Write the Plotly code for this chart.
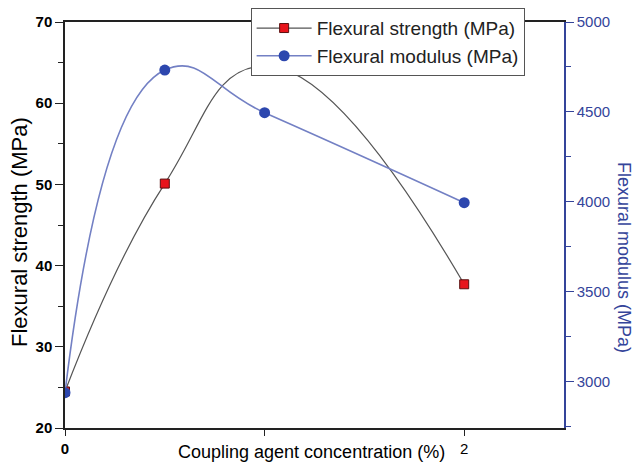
import plotly.graph_objects as go

# Coupling agent concentration (%)
concentration = [0, 0.5, 1, 2]
# Flexural strength (MPa)
strength = [24.5, 50.1, 64.6, 37.7]
# Flexural modulus (MPa)
modulus = [2940, 4733, 4496, 3996]

x_tickvals = [0, 1, 2]
x_ticktext = ["<b>0</b>", "", "2"]
left_tickvals = [20, 30, 40, 50, 60, 70]
right_tickvals = [3000, 3500, 4000, 4500, 5000]

NAVY = "#34449a"
FONT = "Liberation Sans, Arial, sans-serif"

fig = go.Figure()

fig.add_trace(go.Scatter(
    x=concentration, y=strength, name="Flexural strength (MPa)",
    mode="lines+markers",
    line=dict(color="#555555", width=1.2, shape="spline", smoothing=1.3),
    marker=dict(symbol="square", size=9, color="#e8141b",
                line=dict(color="#5a1010", width=1)),
    yaxis="y",
))

fig.add_trace(go.Scatter(
    x=concentration, y=modulus, name="Flexural modulus (MPa)",
    mode="lines+markers",
    line=dict(color="#7380c4", width=1.6, shape="spline", smoothing=1.3),
    marker=dict(symbol="circle", size=11, color="#2d47ae"),
    yaxis="y2",
))

fig.update_layout(
    width=636, height=463,
    margin=dict(l=65, r=72, t=22, b=35, autoexpand=False),
    paper_bgcolor="white", plot_bgcolor="white",
    font=dict(family=FONT, color="black"),
    showlegend=True,
    legend=dict(
        x=0.372, y=1.034, xanchor="left", yanchor="top",
        bgcolor="white", bordercolor="#555555", borderwidth=1,
        font=dict(size=19, family=FONT, color="#222222"),
        tracegroupgap=0, itemwidth=55,
    ),
    xaxis=dict(
        range=[0, 2.5], tickvals=x_tickvals, ticktext=x_ticktext,
        showgrid=False, zeroline=False,
        showline=True, linecolor="#222222", linewidth=1.5, mirror=True,
        ticks="outside", ticklen=6, tickcolor="#222222", tickwidth=1.2,
        tickfont=dict(size=15, family=FONT, color="black"),
    ),
    yaxis=dict(
        range=[20, 70], tickvals=left_tickvals,
        showgrid=False, zeroline=False,
        showline=True, linecolor="#222222", linewidth=1.5,
        ticks="outside", ticklen=8, tickcolor="#222222", tickwidth=1.2,
        minor=dict(dtick=5, tick0=20, ticks="outside", ticklen=5,
                   tickcolor="#222222", showgrid=False),
        tickfont=dict(size=15, family=FONT, color="black", weight="bold"),
    ),
    yaxis2=dict(
        range=[2744, 5000], tickvals=right_tickvals,
        overlaying="y", side="right",
        showgrid=False, zeroline=False,
        showline=True, linecolor=NAVY, linewidth=1.5,
        ticks="outside", ticklen=8, tickcolor=NAVY, tickwidth=1.2,
        minor=dict(dtick=250, tick0=2750, ticks="outside", ticklen=5,
                   tickcolor=NAVY, showgrid=False),
        tickfont=dict(size=15, family=FONT, color=NAVY),
    ),
    annotations=[
        dict(text="Coupling agent concentration (%)", xref="paper", yref="paper",
             x=0.494, y=-0.059, xanchor="center", yanchor="middle", showarrow=False,
             font=dict(size=18, family=FONT, color="black")),
        dict(text="Flexural strength (MPa)", xref="paper", yref="paper",
             x=-0.09, y=0.483, xanchor="center", yanchor="middle", showarrow=False,
             textangle=-90, font=dict(size=22, family=FONT, color="black")),
        dict(text="Flexural modulus (MPa)", xref="paper", yref="paper",
             x=1.12, y=0.419, xanchor="center", yanchor="middle", showarrow=False,
             textangle=90, font=dict(size=18, family=FONT, color=NAVY)),
    ],
)

fig.write_html("out.html")
